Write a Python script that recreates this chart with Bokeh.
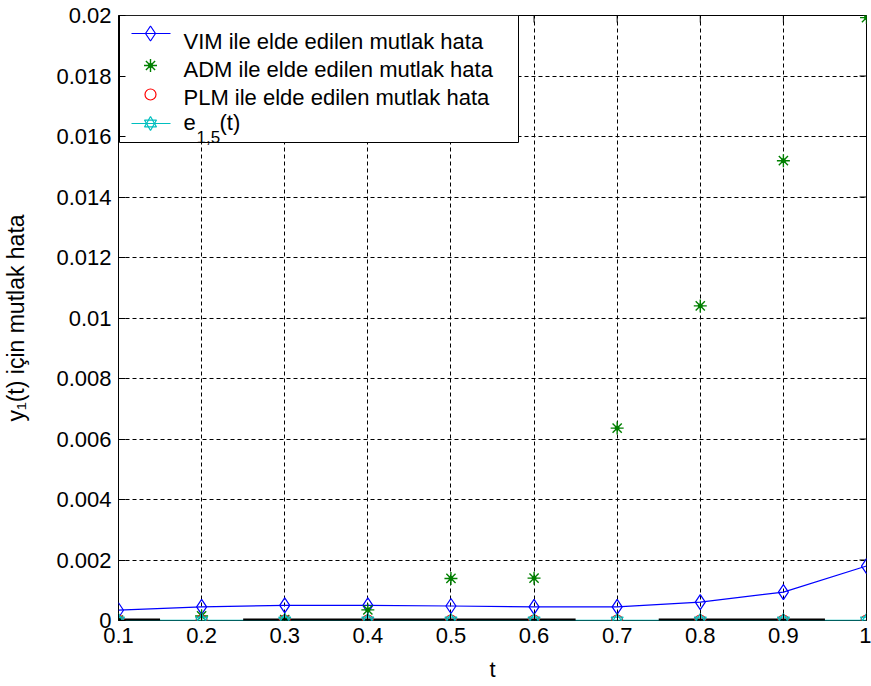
import math
from bokeh.plotting import figure
from bokeh.models import Range1d, FixedTicker
from bokeh.embed import file_html
from bokeh.resources import INLINE

# ---------------- data ----------------
t = [0.1, 0.2, 0.3, 0.4, 0.5, 0.6, 0.7, 0.8, 0.9, 1.0]
vim_err = [0.00034, 0.00045, 0.00050, 0.00050, 0.00048, 0.00045, 0.00045, 0.00061, 0.00094, 0.00180]
adm_err = [0.00001, 0.00015, 0.00003, 0.00035, 0.00139, 0.00140, 0.00636, 0.01040, 0.01520, 0.01993]
plm_err = [0.0, 0.0, 0.0, 0.0, 0.0, 0.0, 0.0, 0.0, 0.0, 0.0]
e15_err = [0.0, 0.0, 0.0, 0.0, 0.0, 0.0, 0.0, 0.0, 0.0, 0.0]

# thick black pieces along the zero line
zero_seg_x0 = [0.1, 0.25, 0.75]
zero_seg_x1 = [0.15, 0.65, 0.95]

x_ticks = [0.1, 0.2, 0.3, 0.4, 0.5, 0.6, 0.7, 0.8, 0.9, 1.0]
x_tick_labels = ["0.1", "0.2", "0.3", "0.4", "0.5", "0.6", "0.7", "0.8", "0.9", "1"]
y_ticks = [0.0, 0.002, 0.004, 0.006, 0.008, 0.01, 0.012, 0.014, 0.016, 0.018, 0.02]
y_tick_labels = ["0", "0.002", "0.004", "0.006", "0.008", "0.01", "0.012",
                 "0.014", "0.016", "0.018", "0.02"]

legend_labels = ["VIM ile elde edilen mutlak hata",
                 "ADM ile elde edilen mutlak hata",
                 "PLM ile elde edilen mutlak hata"]
e_label_main = "e"
e_label_sub = "1,5"
e_label_tail = "(t)"
ylabel = "y\u2081(t) için mutlak hata"
xlabel = "t"

# ---------------- styles ----------------
BLUE = "#0000FF"
GREEN = "#008000"
RED = "#FF0000"
CYAN = "#00BFBF"
FONT = "Liberation Sans"

X0, X1 = 0.1, 1.0
Y0, Y1 = 0.0, 0.02
W, H = 871, 686
BL, BR, BT, BB = 118, 5, 15, 66
FL, FR, FT, FB = float(BL), float(W - BR), float(BT), float(H - BB)


def fx(px):
    return X0 + (px - FL) / (FR - FL) * (X1 - X0)


def fy(py):
    return Y1 - (py - FT) / (FB - FT) * (Y1 - Y0)


p = figure(width=W, height=H,
           x_range=Range1d(X0, X1), y_range=Range1d(Y0, Y1),
           output_backend="svg", toolbar_location=None,
           min_border_left=BL, min_border_right=BR,
           min_border_top=BT, min_border_bottom=BB)
p.background_fill_color = "white"
p.border_fill_color = "white"
p.outline_line_color = "black"
p.outline_line_width = 1
p.outline_line_alpha = 1.0

xax = p.below[0]
yax = p.left[0]
xax.ticker = FixedTicker(ticks=x_ticks)
yax.ticker = FixedTicker(ticks=y_ticks)
xax.major_label_overrides = dict(zip(x_ticks, x_tick_labels))
yax.major_label_overrides = dict(zip(y_ticks, y_tick_labels))

for ax in [xax, yax]:
    ax.axis_line_color = None
    ax.major_tick_in = 7
    ax.major_tick_out = 0
    ax.minor_tick_line_color = None
    ax.major_tick_line_color = "black"
    ax.major_tick_line_width = 1
    ax.major_label_text_font = FONT
    ax.major_label_text_font_size = "22px"
    ax.major_label_text_color = "black"
    ax.major_label_standoff = 7
    ax.axis_label_text_font = FONT
    ax.axis_label_text_font_style = "normal"
    ax.axis_label_text_color = "black"

xax.axis_label = xlabel
xax.axis_label_text_font_size = "22px"
xax.axis_label_standoff = 11
yax.axis_label = ylabel
yax.axis_label_text_font_size = "23px"
yax.axis_label_standoff = 24

# grid
p.xgrid.ticker = FixedTicker(ticks=x_ticks)
p.ygrid.ticker = FixedTicker(ticks=y_ticks)
for g in [p.xgrid, p.ygrid]:
    g.grid_line_color = "black"
    g.grid_line_dash = "4 3"
    g.grid_line_width = 1
    g.grid_line_alpha = 1.0

# inward ticks on the top and right edges of the box
tick_dy = 7.0 / (FB - FT) * (Y1 - Y0)
tick_dx = 7.0 / (FR - FL) * (X1 - X0)
p.segment(x0=x_ticks, y0=[Y1] * len(x_ticks), x1=x_ticks, y1=[Y1 - tick_dy] * len(x_ticks),
          line_color="black", line_width=1)
p.segment(x0=[X1] * len(y_ticks), y0=y_ticks, x1=[X1 - tick_dx] * len(y_ticks), y1=y_ticks,
          line_color="black", line_width=1)

# ---------------- data series ----------------
p.line(t, vim_err, line_color=BLUE, line_width=1.2)
p.scatter(t, vim_err, marker="diamond", size=15, line_color=BLUE,
          fill_color=None, line_width=1.2)

p.scatter(t, adm_err, marker="asterisk", size=13, line_color=GREEN, line_width=1.4)
p.scatter(t, adm_err, marker="circle", size=4, line_color=GREEN, fill_color=GREEN)

p.line(t, e15_err, line_color=CYAN, line_width=1.5)
p.segment(x0=zero_seg_x0, y0=[0.0] * len(zero_seg_x0),
          x1=zero_seg_x1, y1=[0.0] * len(zero_seg_x1),
          line_color="black", line_width=4)

p.scatter(t, plm_err, marker="circle", size=11, line_color=RED,
          fill_color=None, line_width=1.2)

p.scatter(t, e15_err, marker="triangle", size=12, line_color=CYAN,
          fill_color=None, line_width=1.2)
p.scatter(t, e15_err, marker="inverted_triangle", size=12, line_color=CYAN,
          fill_color=None, line_width=1.2)

# ---------------- legend (drawn by hand) ----------------
p.quad(left=[fx(119)], right=[fx(518)], top=[fy(15)], bottom=[fy(142)],
       fill_color="white", line_color="black", line_width=1)

row_marker_y = [33, 65, 94, 123]
row_base_y = [40.5, 68.5, 97, 122]

p.line([fx(131), fx(170)], [fy(row_marker_y[0])] * 2, line_color=BLUE, line_width=1.2)
p.scatter([fx(150)], [fy(row_marker_y[0])], marker="diamond", size=15,
          line_color=BLUE, fill_color=None, line_width=1.2)
p.scatter([fx(150)], [fy(row_marker_y[1])], marker="asterisk", size=13,
          line_color=GREEN, line_width=1.4)
p.scatter([fx(150)], [fy(row_marker_y[1])], marker="circle", size=4,
          line_color=GREEN, fill_color=GREEN)
p.scatter([fx(150)], [fy(row_marker_y[2])], marker="circle", size=11,
          line_color=RED, fill_color=None, line_width=1.2)
p.line([fx(131), fx(170)], [fy(row_marker_y[3])] * 2, line_color=CYAN, line_width=1.2)
p.scatter([fx(150)], [fy(row_marker_y[3])], marker="triangle", size=12,
          line_color=CYAN, fill_color=None, line_width=1.2)
p.scatter([fx(150)], [fy(row_marker_y[3])], marker="inverted_triangle", size=12,
          line_color=CYAN, fill_color=None, line_width=1.2)

p.text(x=[fx(183)] * 3, y=[fy(b) for b in row_base_y[:3]], text=legend_labels,
       text_font={"value": FONT}, text_font_size="22px", text_color="black",
       text_align="left", text_baseline="alphabetic")
p.text(x=[fx(183)], y=[fy(row_base_y[3])], text=[e_label_main],
       text_font={"value": FONT}, text_font_size="22px", text_color="black",
       text_align="left", text_baseline="alphabetic")
p.text(x=[fx(196)], y=[fy(row_base_y[3] + 14)], text=[e_label_sub],
       text_font={"value": FONT}, text_font_size="17px", text_color="black",
       text_align="left", text_baseline="alphabetic")
p.text(x=[fx(219)], y=[fy(row_base_y[3])], text=[e_label_tail],
       text_font={"value": FONT}, text_font_size="22px", text_color="black",
       text_align="left", text_baseline="alphabetic")

open("out.html", "w").write(file_html(p, INLINE))
